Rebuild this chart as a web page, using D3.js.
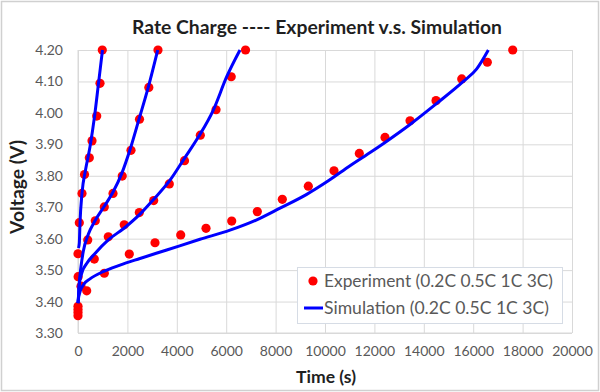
<!DOCTYPE html>
<html><head><meta charset="utf-8">
<script src="https://cdn.jsdelivr.net/npm/d3@7"></script>
<style>
html,body{margin:0;padding:0;background:#fff;}
svg{display:block;font-family:Lato,"Open Sans",sans-serif;}
</style></head>
<body><svg id="c" width="600" height="392"></svg>
<script>
// ---- data ----
const titleText = "Rate Charge ---- Experiment v.s. Simulation";
const xLabel = "Time (s)";
const yLabel = "Voltage (V)";
const xTicks = [0,2000,4000,6000,8000,10000,12000,14000,16000,18000,20000];
const yTicks = [3.3,3.4,3.5,3.6,3.7,3.8,3.9,4.0,4.1,4.2];
const legendLabels = ["Experiment (0.2C 0.5C 1C 3C)", "Simulation (0.2C 0.5C 1C 3C)"];

// Experiment
const exp02C_t = [0,352,1065,2077,3118,4158,5183,6223,7260,8272,9325,10365,11390,12430,13443,14495,15536,16572,17600];
const exp02C_v = [3.355,3.434,3.490,3.551,3.587,3.612,3.633,3.656,3.686,3.725,3.767,3.816,3.871,3.922,3.975,4.039,4.108,4.161,4.200];
const exp05C_t = [0,393,700,1065,1417,1790,2146,2490,2867,3239];
const exp05C_v = [3.365,3.596,3.657,3.701,3.744,3.799,3.881,3.980,4.081,4.200];
const exp1C_t = [0,121,660,1227,1871,2482,3065,3697,4312,4952,5588,6203,6782];
const exp1C_v = [3.375,3.449,3.535,3.606,3.644,3.683,3.721,3.774,3.848,3.929,4.010,4.115,4.200];
const exp3C_t = [0,5,0,53,162,263,458,567,757,891,984];
const exp3C_v = [3.385,3.479,3.552,3.651,3.744,3.804,3.857,3.911,3.990,4.094,4.200];

// Simulation
const sim02C_t = [0,12,81,243,486,1012,1701,2510,3591,4940,6154,7236,8179,9260,10135,11013,11904,12430,13443,14524,15601,16143,16613];
const sim02C_v = [3.395,3.405,3.431,3.456,3.472,3.495,3.516,3.537,3.564,3.598,3.627,3.660,3.697,3.741,3.784,3.832,3.878,3.906,3.963,4.030,4.100,4.140,4.200];
const sim05C_t = [0,12,40,121,215,417,688,1065,1429,1769,2118,2470,2846,3227];
const sim05C_v = [3.395,3.405,3.447,3.511,3.560,3.614,3.657,3.703,3.750,3.807,3.886,3.980,4.082,4.200];
const sim1C_t = [0,12,40,150,352,688,1227,1875,2510,3049,3725,4264,4871,5478,6021,6559];
const sim1C_v = [3.395,3.405,3.447,3.490,3.521,3.553,3.596,3.634,3.678,3.724,3.786,3.850,3.923,4.009,4.115,4.200];
const sim3C_t = [20,53,81,162,304,486,668,830,992];
const sim3C_v = [3.570,3.586,3.650,3.745,3.818,3.892,3.988,4.094,4.200];

const expSeries = [[exp02C_t,exp02C_v],[exp05C_t,exp05C_v],[exp1C_t,exp1C_v],[exp3C_t,exp3C_v]];
const simSeries = [[sim02C_t,sim02C_v],[sim05C_t,sim05C_v],[sim1C_t,sim1C_v],[sim3C_t,sim3C_v]];

// ---- layout ----
const W = 600, H = 392;
const L = 78, R = 572, T = 50, B = 333;
const svg = d3.select("#c");
const grey = "#595959";
const dark = "#1f1f1f";

function fit(sel, target){
  const n = sel.node();
  const fs = parseFloat(sel.style("font-size"));
  const w = n.getComputedTextLength();
  if (w > 0) sel.style("font-size", (fs*target/w).toFixed(2)+"px");
  return sel;
}

svg.append("rect").attr("x",1.5).attr("y",1.5).attr("width",W-3).attr("height",H-3)
  .attr("fill","#fff").attr("stroke","#d0d0d0").attr("stroke-width",1.5);

const x = d3.scaleLinear().domain([0,20000]).range([L,R]);
const y = d3.scaleLinear().domain([3.3,4.2]).range([B,T]);

const gx = svg.append("g").attr("transform",`translate(0,${B})`)
  .call(d3.axisBottom(x).tickValues(xTicks).tickSize(-(B-T)).tickFormat(d3.format("d")).tickPadding(13));
const gy = svg.append("g").attr("transform",`translate(${L},0)`)
  .call(d3.axisLeft(y).tickValues(yTicks).tickSize(-(R-L)).tickFormat(d3.format(".2f")).tickPadding(15));
[gx,gy].forEach(g=>{
  g.select(".domain").remove();
  g.selectAll(".tick line").attr("stroke","#d9d9d9").attr("stroke-width",1);
  g.selectAll(".tick text").attr("fill",grey).style("font-size","14px").style("font-family","Lato,sans-serif");
});
svg.append("line").attr("x1",L).attr("x2",R).attr("y1",B).attr("y2",B).attr("stroke","#d9d9d9");
svg.append("line").attr("x1",L).attr("x2",L).attr("y1",T).attr("y2",B).attr("stroke","#d9d9d9");

expSeries.forEach(([ts,vs])=>{
  svg.append("g").selectAll("circle").data(ts.map((t,i)=>[t,vs[i]])).join("circle")
    .attr("cx",d=>x(d[0])).attr("cy",d=>y(d[1])).attr("r",4.6).attr("fill","#ff0000");
});
const line = d3.line().x(d=>x(d[0])).y(d=>y(d[1])).curve(d3.curveMonotoneX);
simSeries.forEach(([ts,vs])=>{
  svg.append("path").datum(ts.map((t,i)=>[t,vs[i]])).attr("d",line)
    .attr("fill","none").attr("stroke","#0000ff").attr("stroke-width",3).attr("stroke-linejoin","round");
});

// title
fit(svg.append("text").attr("x",317).attr("y",34).attr("text-anchor","middle")
  .style("font-weight","bold").style("font-size","17px").attr("fill",dark).text(titleText), 370);
// axis titles
fit(svg.append("text").attr("x",326).attr("y",383).attr("text-anchor","middle")
  .style("font-weight","bold").style("font-size","15px").attr("fill",dark).text(xLabel), 60);
fit(svg.append("text").attr("transform","translate(24,187) rotate(-90)").attr("text-anchor","middle")
  .style("font-weight","bold").style("font-size","15px").attr("fill",dark).text(yLabel), 94);

// legend
const lg = svg.append("g");
lg.append("rect").attr("x",297.5).attr("y",267.5).attr("width",265).attr("height",56)
  .attr("fill","#fff").attr("stroke","#d6dce5");
lg.append("circle").attr("cx",313).attr("cy",281).attr("r",4.6).attr("fill","#ff0000");
lg.append("line").attr("x1",304).attr("x2",323).attr("y1",308).attr("y2",308).attr("stroke","#0000ff").attr("stroke-width",3);
lg.selectAll("text.lt").data(legendLabels).join("text").attr("class","lt")
  .attr("x",324).attr("y",(d,i)=>i?314:287).attr("fill",grey).style("font-size","15px").text(d=>d)
  .each(function(d,i){ fit(d3.select(this), i?225:229); });
</script>
</body></html>
